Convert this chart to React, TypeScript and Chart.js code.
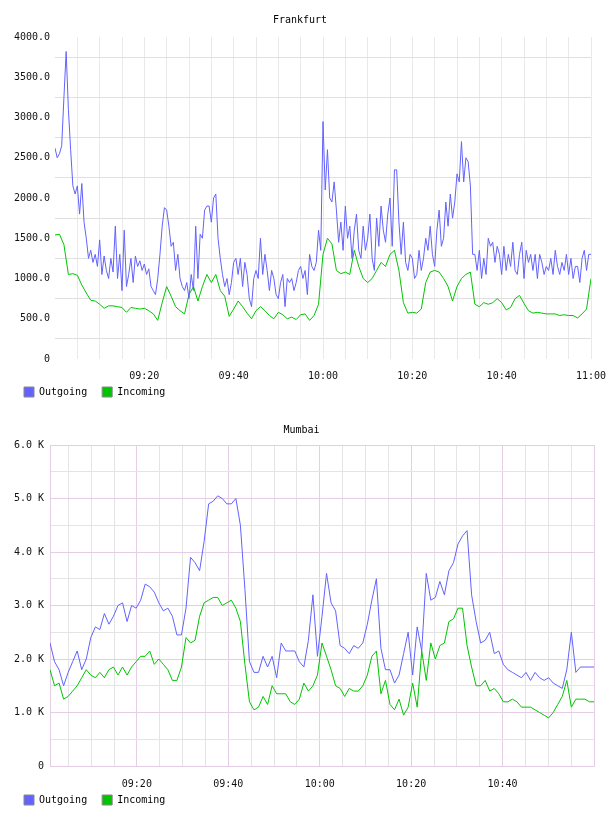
import React, { useEffect, useRef } from "react";
import { Chart, registerables } from "chart.js";

Chart.register(...registerables);

// ---------- Data ----------
// Frankfurt: minutes after 09:00
const FRANKFURT_OUT_STEP_MIN = 0.5;
const FRANKFURT_IN_STEP_MIN = 1;
const FRANKFURT_OUTGOING = [
  2620, 2500, 2550, 2650, 3250, 3820, 3100, 2600, 2150, 2050,
  2150, 1800, 2180, 1700, 1500, 1250, 1350, 1200, 1300, 1150,
  1480, 1050, 1280, 1100, 1000, 1250, 1080, 1650, 1000, 1300,
  850, 1600, 900, 1050, 1250, 950, 1280, 1150, 1220, 1100,
  1180, 1050, 1120, 900, 850, 800, 1000, 1300, 1650, 1880,
  1850, 1650, 1400, 1450, 1100, 1300, 1000, 900, 850, 950,
  750, 1050, 850, 1650, 1000, 1550, 1500, 1850, 1900, 1900,
  1700, 2000, 2050, 1500, 1250, 1050, 900, 1000, 800, 950,
  1200, 1250, 1050, 1250, 900, 1200, 1050, 750, 650, 1000,
  1100, 1000, 1500, 1050, 1300, 1100, 850, 1100, 1000, 800,
  750, 950, 1050, 650, 1000, 950, 1000, 850, 950, 1100,
  1150, 1000, 1100, 800, 1300, 1150, 1100, 1200, 1600, 1350,
  2950, 2100, 2600, 2000, 1950, 2200, 1850, 1450, 1700, 1350,
  1900, 1500, 1650, 1250, 1600, 1800, 1350, 1250, 1650, 1350,
  1500, 1800, 1250, 1100, 1750, 1400, 1900, 1600, 1450, 1800,
  2000, 1400, 2350, 2350, 1700, 1300, 1700, 1200, 1100, 1300,
  1250, 1000, 1050, 1350, 1100, 1250, 1500, 1350, 1650, 1300,
  1150, 1600, 1850, 1400, 1500, 1950, 1650, 2050, 1750, 1950,
  2300, 2200, 2700, 2200, 2500, 2450, 2150, 1300, 1300, 1100,
  1350, 1000, 1250, 1050, 1500, 1400, 1450, 1200, 1400, 1300,
  1050, 1400, 1100, 1300, 1150, 1450, 1100, 1050, 1300, 1450,
  1000, 1350, 1200, 1300, 1100, 1300, 1000, 1300, 1200, 1050,
  1150, 1100, 1250, 1050, 1350, 1150, 1050, 1200, 1100, 1300,
  1050, 1250, 1000, 1150, 1150, 950, 1250, 1350, 1100, 1300,
  1300,
];
const FRANKFURT_INCOMING = [
  1540, 1550, 1420, 1050, 1060, 1040, 920, 820, 730, 720,
  680, 630, 660, 660, 650, 640, 580, 640, 630, 620,
  630, 600, 560, 480, 700, 900, 780, 650, 600, 560,
  800, 900, 720, 900, 1050, 950, 1050, 850, 780, 530,
  620, 720, 650, 570, 500, 600, 650, 600, 540, 500,
  580, 550, 500, 520, 490, 550, 560, 480, 540, 680,
  1300, 1500, 1430, 1100, 1060, 1080, 1050, 1350, 1150, 1000,
  950, 1000, 1100, 1200, 1150, 1300, 1350, 1100, 700, 570,
  580, 570, 620, 950, 1080, 1100, 1080, 1000, 900, 720,
  900, 1000, 1050, 1080, 680, 650, 700, 680, 700, 750,
  700, 610, 640, 750, 790, 690, 600, 570, 580, 570,
  560, 560, 560, 540, 550, 540, 540, 510, 560, 620,
  1000,
];

// Mumbai: minutes after 09:00
const MUMBAI_START_MIN = 1;
const MUMBAI_STEP_MIN = 119 / 120;
const MUMBAI_OUTGOING = [
  2300, 1950, 1800, 1500, 1750, 1950, 2150, 1800, 2000, 2400,
  2600, 2550, 2850, 2650, 2800, 3000, 3050, 2700, 3000, 2950,
  3100, 3400, 3350, 3250, 3050, 2900, 2950, 2800, 2450, 2450,
  2950, 3900, 3800, 3650, 4200, 4900, 4950, 5050, 5000, 4900,
  4900, 5000, 4500, 3300, 1950, 1750, 1750, 2050, 1850, 2050,
  1650, 2300, 2150, 2150, 2150, 1950, 1850, 2350, 3200, 2050,
  2800, 3600, 3050, 2900, 2250, 2200, 2100, 2250, 2200, 2300,
  2650, 3100, 3500, 2200, 1800, 1800, 1550, 1700, 2100, 2500,
  1700, 2600, 2150, 3600, 3100, 3150, 3450, 3200, 3650, 3800,
  4150, 4300, 4400, 3200, 2700, 2300, 2350, 2500, 2100, 2150,
  1900, 1800, 1750, 1700, 1650, 1750, 1600, 1750, 1650, 1600,
  1650, 1550, 1500, 1450, 1800, 2500, 1750, 1850, 1850, 1850,
  1850,
];
const MUMBAI_INCOMING = [
  1800, 1500, 1550, 1250, 1300, 1400, 1500, 1650, 1800, 1700,
  1650, 1750, 1650, 1800, 1850, 1700, 1850, 1700, 1850, 1950,
  2050, 2050, 2150, 1900, 2000, 1900, 1800, 1600, 1600, 1850,
  2400, 2300, 2350, 2800, 3050, 3100, 3150, 3150, 3000, 3050,
  3100, 2950, 2700, 1900, 1200, 1050, 1100, 1300, 1150, 1500,
  1350, 1350, 1350, 1200, 1150, 1250, 1550, 1400, 1500, 1700,
  2300, 2050, 1800, 1500, 1450, 1300, 1450, 1400, 1400, 1500,
  1700, 2050, 2150, 1350, 1600, 1150, 1050, 1250, 950, 1100,
  1550, 1100, 2150, 1600, 2300, 2000, 2250, 2300, 2700, 2750,
  2950, 2950, 2250, 1850, 1500, 1500, 1600, 1400, 1450, 1350,
  1200, 1200, 1250, 1200, 1100, 1100, 1100, 1050, 1000, 950,
  900, 1000, 1150, 1300, 1600, 1100, 1250, 1250, 1250, 1200,
  1200,
];

const SERIES_NAMES = ["Outgoing", "Incoming"];
const OUT_COLOR = "#6262ff";
const IN_COLOR = "#00c400";

const FONT_FAMILY = "'DejaVu Sans Mono', monospace";

function fmtTime(v: number): string {
  const total = 9 * 60 + Math.round(v);
  const h = Math.floor(total / 60);
  const m = total % 60;
  return String(h).padStart(2, "0") + ":" + String(m).padStart(2, "0");
}

// Moves the legend to a chosen top so that it may overlap the (clipped) x-axis box.
const legendPlacer = {
  id: "legendPlacer",
  afterLayout(chart: any, _args: any, opts: any) {
    const l = chart.legend;
    if (l && typeof opts.top === "number") {
      const h = l.bottom - l.top;
      l.top = opts.top;
      l.bottom = opts.top + h;
    }
  },
};

type Cfg = {
  title: string;
  titlePad: { top: number; bottom: number };
  out: { x: number; y: number }[];
  inc: { x: number; y: number }[];
  xMin: number;
  xMax: number;
  yMax: number;
  yStep: number;
  yLabel: (v: number) => string;
  yGrid: (v: number) => string;
  xGrid: (v: number) => string;
  xLabel: (v: number) => string;
  yWidth: number;
  yPad: number;
  xHeight: number;
  xPad: number;
  padRight: number;
  padBottom: number;
  legendTop: number;
  border: string | null;
};

function makeChart(canvas: HTMLCanvasElement, c: Cfg) {
  const font = { family: FONT_FAMILY, size: 10 };
  return new Chart(canvas, {
    type: "line",
    data: {
      datasets: [
        {
          label: SERIES_NAMES[0],
          data: c.out,
          borderColor: OUT_COLOR,
          backgroundColor: OUT_COLOR,
          borderWidth: 1,
          pointRadius: 0,
          tension: 0,
          fill: false,
        },
        {
          label: SERIES_NAMES[1],
          data: c.inc,
          borderColor: IN_COLOR,
          backgroundColor: IN_COLOR,
          borderWidth: 1,
          pointRadius: 0,
          tension: 0,
          fill: false,
        },
      ],
    },
    plugins: [legendPlacer],
    options: {
      responsive: false,
      animation: false,
      events: [],
      layout: { padding: { left: 9, right: c.padRight, top: 0, bottom: c.padBottom } },
      plugins: {
        legendPlacer: { top: c.legendTop },
        title: {
          display: true,
          text: c.title,
          color: "#000",
          font: { ...font, weight: "normal" },
          padding: c.titlePad,
        },
        legend: {
          position: "bottom",
          align: "start",
          labels: {
            boxWidth: 10,
            boxHeight: 10,
            padding: 15,
            color: "#000",
            font,
            generateLabels: () => [
              { text: SERIES_NAMES[0], fillStyle: OUT_COLOR, strokeStyle: "#888", lineWidth: 1, hidden: false, datasetIndex: 0 },
              { text: SERIES_NAMES[1], fillStyle: IN_COLOR, strokeStyle: "#888", lineWidth: 1, hidden: false, datasetIndex: 1 },
            ],
          },
        },
        tooltip: { enabled: false },
      },
      scales: {
        x: {
          type: "linear",
          min: c.xMin,
          max: c.xMax,
          afterFit: (s: any) => {
            s.height = c.xHeight;
            s.paddingLeft = 0;
            s.paddingRight = 0;
          },
          ticks: {
            stepSize: 5,
            autoSkip: false,
            includeBounds: false,
            maxRotation: 0,
            minRotation: 0,
            padding: c.xPad,
            color: "#111",
            font,
            callback: (v: any) => c.xLabel(Number(v)),
          },
          grid: {
            drawTicks: false,
            color: (ctx: any) => c.xGrid(ctx.tick ? ctx.tick.value : 0),
          },
          border: c.border ? { display: true, color: c.border, width: 1 } : { display: false },
        },
        y: {
          type: "linear",
          min: 0,
          max: c.yMax,
          afterFit: (s: any) => {
            s.width = c.yWidth;
          },
          ticks: {
            stepSize: c.yStep,
            autoSkip: false,
            padding: c.yPad,
            color: "#111",
            font,
            callback: (v: any) => c.yLabel(Number(v)),
          },
          grid: {
            drawTicks: false,
            color: (ctx: any) => c.yGrid(ctx.tick ? ctx.tick.value : 0),
          },
          border: c.border ? { display: true, color: c.border, width: 1 } : { display: false },
        },
      },
    } as any,
  });
}

const PINK = "#e6cde6";
const GREY = "#e4e4e4";

export default function App() {
  const r1 = useRef<HTMLCanvasElement>(null);
  const r2 = useRef<HTMLCanvasElement>(null);

  useEffect(() => {
    const fOut = FRANKFURT_OUTGOING.map((v, i) => ({ x: i * FRANKFURT_OUT_STEP_MIN, y: v }));
    const fIn = FRANKFURT_INCOMING.map((v, i) => ({ x: i * FRANKFURT_IN_STEP_MIN, y: v }));
    const mOut = MUMBAI_OUTGOING.map((v, i) => ({ x: MUMBAI_START_MIN + i * MUMBAI_STEP_MIN, y: v }));
    const mIn = MUMBAI_INCOMING.map((v, i) => ({ x: MUMBAI_START_MIN + i * MUMBAI_STEP_MIN, y: v }));

    // canvas 1: 416 tall; chartArea bottom = 416 - 1 - 35 - 21 = 359
    const c1 = makeChart(r1.current!, {
      title: "Frankfurt",
      titlePad: { top: 14, bottom: 11 },
      out: fOut,
      inc: fIn,
      xMin: 0,
      xMax: 120,
      yMax: 4000,
      yStep: 250,
      yLabel: (v) => (v % 500 === 0 ? (v === 0 ? "0" : v.toFixed(1)) : ""),
      yGrid: (v) => (v % 500 === 250 ? "#e0e0e0" : "rgba(0,0,0,0)"),
      xGrid: (v) => (v === 0 ? "rgba(0,0,0,0)" : "#e9e9e9"),
      xLabel: (v) => (v > 0 && v % 20 === 0 ? fmtTime(v) : ""),
      yWidth: 46,
      yPad: 5,
      xHeight: 21,
      xPad: 11,
      padRight: 17,
      padBottom: 1,
      legendTop: 372,
      border: null,
    });

    // canvas 2: 415 tall, at page y=408; chartArea bottom = 415 - 1 - 35 - 21 = 358
    const c2 = makeChart(r2.current!, {
      title: "Mumbai",
      titlePad: { top: 16, bottom: 9 },
      out: mOut,
      inc: mIn,
      xMin: MUMBAI_START_MIN,
      xMax: 120,
      yMax: 6000,
      yStep: 500,
      yLabel: (v) => (v % 1000 === 0 ? (v === 0 ? "0" : (v / 1000).toFixed(1) + " K") : ""),
      yGrid: (v) => (v % 1000 === 0 ? PINK : GREY),
      xGrid: (v) => (v % 20 === 0 ? PINK : GREY),
      xLabel: (v) => (v > 0 && v < 120 && v % 20 === 0 ? fmtTime(v) : ""),
      yWidth: 41,
      yPad: 6,
      xHeight: 21,
      xPad: 12,
      padRight: 14,
      padBottom: 1,
      legendTop: 372,
      border: PINK,
    });

    return () => {
      c1.destroy();
      c2.destroy();
    };
  }, []);

  return (
    <div style={{ position: "absolute", left: 0, top: 0, width: 608, height: 816, overflow: "hidden", background: "#fff" }}>
      <canvas ref={r1} width={608} height={416} style={{ position: "absolute", left: 0, top: 0, width: 608, height: 416 }} />
      <canvas ref={r2} width={608} height={415} style={{ position: "absolute", left: 0, top: 408, width: 608, height: 415 }} />
    </div>
  );
}
